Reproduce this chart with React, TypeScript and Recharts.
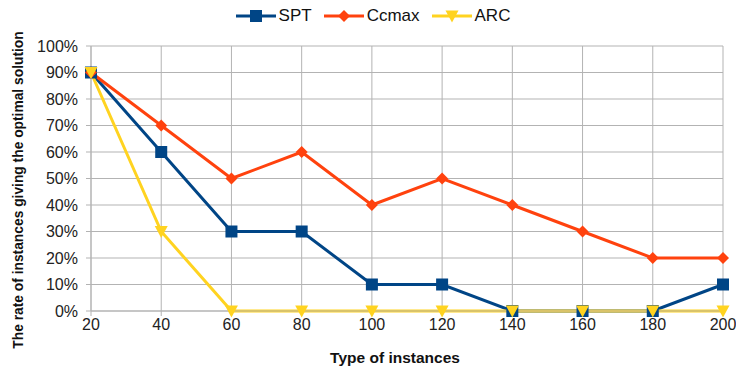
import React from 'react'
import { LineChart, Line, XAxis, YAxis, CartesianGrid, Legend } from 'recharts'

const categories = ['20', '40', '60', '80', '100', '120', '140', '160', '180', '200']
const sptValues = [90, 60, 30, 30, 10, 10, 0, 0, 0, 10]
const ccmaxValues = [90, 70, 50, 60, 40, 50, 40, 30, 20, 20]
const arcValues = [90, 30, 0, 0, 0, 0, 0, 0, 0, 0]
const yTicks = [0, 10, 20, 30, 40, 50, 60, 70, 80, 90, 100]

const series = [
  { key: 'SPT', color: '#004586', shape: 'square' },
  { key: 'Ccmax', color: '#ff420e', shape: 'diamond' },
  { key: 'ARC', color: '#ffd320', shape: 'triangle' },
]

const data = categories.map((c, i) => ({
  name: c,
  SPT: sptValues[i],
  Ccmax: ccmaxValues[i],
  ARC: arcValues[i],
}))

const FONT = '"Liberation Sans", Arial, sans-serif'
const GRID = '#b3b3b3'

function Marker({ cx, cy, shape, color }: { cx: number; cy: number; shape: string; color: string }) {
  if (cx == null || cy == null) return null
  if (shape === 'square') {
    return <rect x={cx - 6} y={cy - 6} width={12} height={12} fill={color} />
  }
  if (shape === 'diamond') {
    return <polygon points={`${cx},${cy - 6} ${cx + 6},${cy} ${cx},${cy + 6} ${cx - 6},${cy}`} fill={color} />
  }
  return <polygon points={`${cx - 6.5},${cy - 5.5} ${cx + 6.5},${cy - 5.5} ${cx},${cy + 6.5}`} fill={color} />
}

function LegendContent() {
  return (
    <div style={{ height: 42, display: 'flex', justifyContent: 'center', alignItems: 'flex-start', paddingLeft: 22, boxSizing: 'border-box', fontFamily: FONT, fontSize: 17, color: '#111' }}>
      {series.map((s) => (
        <div key={s.key} style={{ display: 'flex', alignItems: 'center', height: 24, marginRight: 12 }}>
          <svg width={40} height={14} style={{ marginRight: 3 }}>
            <line x1={0} y1={7} x2={40} y2={7} stroke={s.color} strokeWidth={3} />
            <Marker cx={20} cy={7} shape={s.shape} color={s.color} />
          </svg>
          <span>{s.key}</span>
        </div>
      ))}
    </div>
  )
}

function YLabel() {
  return (
    <text
      x={18}
      y={190}
      transform="rotate(-90, 18, 190)"
      textAnchor="middle"
      dominantBaseline="central"
      fontFamily={FONT}
      fontSize={13.8}
      fontWeight="bold"
      fill="#111"
    >
      The rate of instances giving the optimal solution
    </text>
  )
}

function XLabel() {
  return (
    <text x={395} y={357} textAnchor="middle" dominantBaseline="central" fontFamily={FONT} fontSize={15.5} fontWeight="bold" fill="#111">
      Type of instances
    </text>
  )
}

export default function App() {
  return (
    <div style={{ position: 'absolute', left: 0, top: 0, background: '#fff' }}>
      <LineChart width={736} height={371} data={data} margin={{ top: 4, right: 13, left: 0, bottom: 10 }}>
        <CartesianGrid stroke={GRID} strokeWidth={1} />
        <XAxis
          dataKey="name"
          height={50}
          stroke={GRID}
          tickSize={5}
          tickMargin={3}
          tick={{ fill: '#222', fontSize: 16, fontFamily: FONT }}
          label={{ content: XLabel }}
        />
        <YAxis
          width={91}
          domain={[0, 100]}
          ticks={yTicks}
          interval={0}
          stroke={GRID}
          tickSize={5}
          tickMargin={8}
          tickFormatter={(v: number) => `${v}%`}
          tick={{ fill: '#222', fontSize: 16, fontFamily: FONT }}
          label={{ content: YLabel }}
        />
        <Legend verticalAlign="top" content={LegendContent} wrapperStyle={{ top: 4, left: 0, width: 736 }} />
        {series.map((s) => (
          <Line
            key={s.key}
            dataKey={s.key}
            stroke={s.color}
            strokeWidth={3}
            isAnimationActive={false}
            dot={(p: any) => <Marker key={`${s.key}-${p.index}`} cx={p.cx} cy={p.cy} shape={s.shape} color={s.color} />}
            activeDot={false}
          />
        ))}
      </LineChart>
    </div>
  )
}
